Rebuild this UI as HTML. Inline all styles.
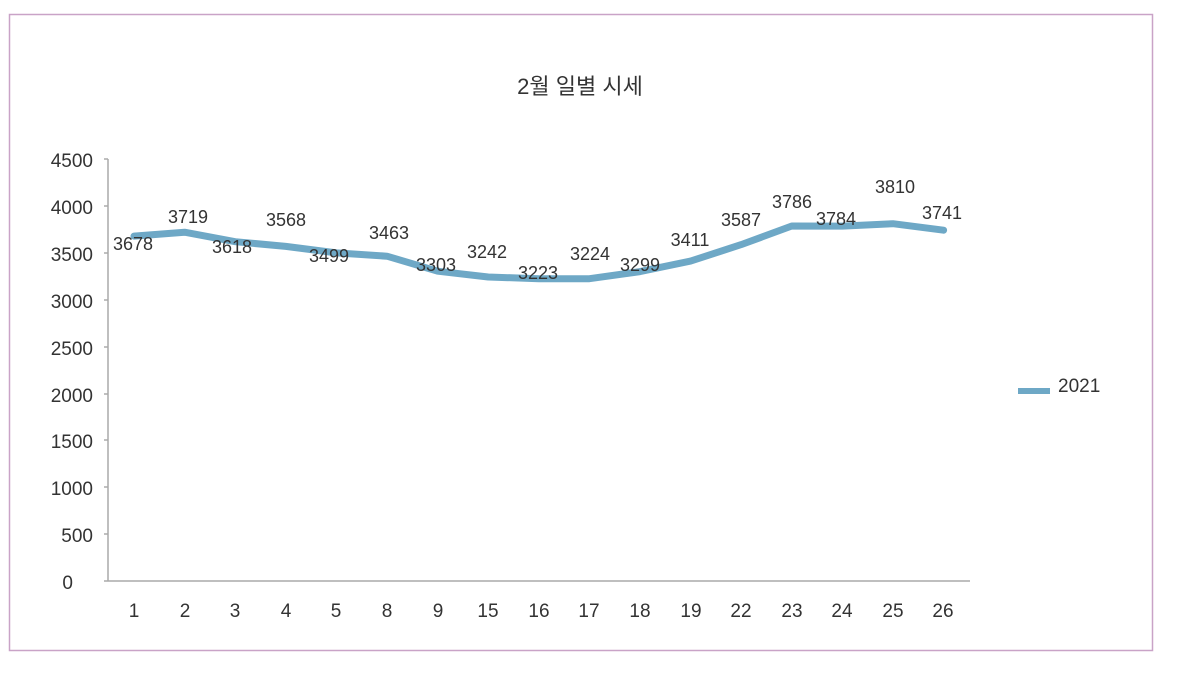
<!DOCTYPE html>
<html><head><meta charset="utf-8"><style>
body{margin:0;background:#fff;}
svg text{font-family:"Liberation Sans","Noto Sans CJK KR",sans-serif;fill:#333;}
</style></head><body>
<svg width="1180" height="676" viewBox="0 0 1180 676" xmlns="http://www.w3.org/2000/svg">
<rect x="0" y="0" width="1180" height="676" fill="#fff"/>
<rect x="9.5" y="14.5" width="1143" height="636" fill="none" stroke="#c9a3c7" stroke-width="1.5"/>
<text x="580" y="94" font-size="22" text-anchor="middle">2월 일별 시세</text>
<g stroke="#aaa" stroke-width="1.5">
<line x1="108" y1="159" x2="108" y2="581"/>
<line x1="104" y1="581" x2="970" y2="581"/>
<line x1="104" y1="159" x2="108" y2="159"/><line x1="104" y1="206" x2="108" y2="206"/>
<line x1="104" y1="253" x2="108" y2="253"/><line x1="104" y1="300" x2="108" y2="300"/>
<line x1="104" y1="347" x2="108" y2="347"/><line x1="104" y1="394" x2="108" y2="394"/>
<line x1="104" y1="440" x2="108" y2="440"/><line x1="104" y1="487" x2="108" y2="487"/>
<line x1="104" y1="534" x2="108" y2="534"/>
</g>
<g font-size="19" text-anchor="end">
<text x="93" y="167">4500</text><text x="93" y="214">4000</text><text x="93" y="261">3500</text>
<text x="93" y="308">3000</text><text x="93" y="355">2500</text><text x="93" y="402">2000</text>
<text x="93" y="448">1500</text><text x="93" y="495">1000</text><text x="93" y="542">500</text>
<text x="73" y="589">0</text>
</g>
<g font-size="19" text-anchor="middle">
<text x="134" y="617">1</text><text x="185" y="617">2</text><text x="235" y="617">3</text>
<text x="286" y="617">4</text><text x="336" y="617">5</text><text x="387" y="617">8</text>
<text x="438" y="617">9</text><text x="488" y="617">15</text><text x="539" y="617">16</text>
<text x="589" y="617">17</text><text x="640" y="617">18</text><text x="691" y="617">19</text>
<text x="741" y="617">22</text><text x="792" y="617">23</text><text x="842" y="617">24</text>
<text x="893" y="617">25</text><text x="943" y="617">26</text>
</g>
<polyline fill="none" stroke="#6ea8c6" stroke-width="7" stroke-linejoin="round" stroke-linecap="round"
points="134,236.1 184.6,232.2 235.2,241.7 285.8,246.4 336.4,252.9 387,256.2 437.6,271.2 488.2,277 538.8,278.7 589.4,278.7 640,271.6 690.6,261.1 741.2,244.6 791.8,226 842.4,226.1 893,223.7 943.6,230.2"/>
<g font-size="18" text-anchor="middle">
<text x="133" y="250">3678</text><text x="188" y="223">3719</text><text x="232" y="253">3618</text>
<text x="286" y="226">3568</text><text x="329" y="262">3499</text><text x="389" y="239">3463</text>
<text x="436" y="271">3303</text><text x="487" y="258">3242</text><text x="538" y="279">3223</text>
<text x="590" y="260">3224</text><text x="640" y="271">3299</text><text x="690" y="246">3411</text>
<text x="741" y="226">3587</text><text x="792" y="208">3786</text><text x="836" y="225">3784</text>
<text x="895" y="193">3810</text><text x="942" y="219">3741</text>
</g>
<line x1="1018" y1="391" x2="1050" y2="391" stroke="#6ea8c6" stroke-width="6"/>
<text x="1058" y="392" font-size="19">2021</text>
</svg>
</body></html>
